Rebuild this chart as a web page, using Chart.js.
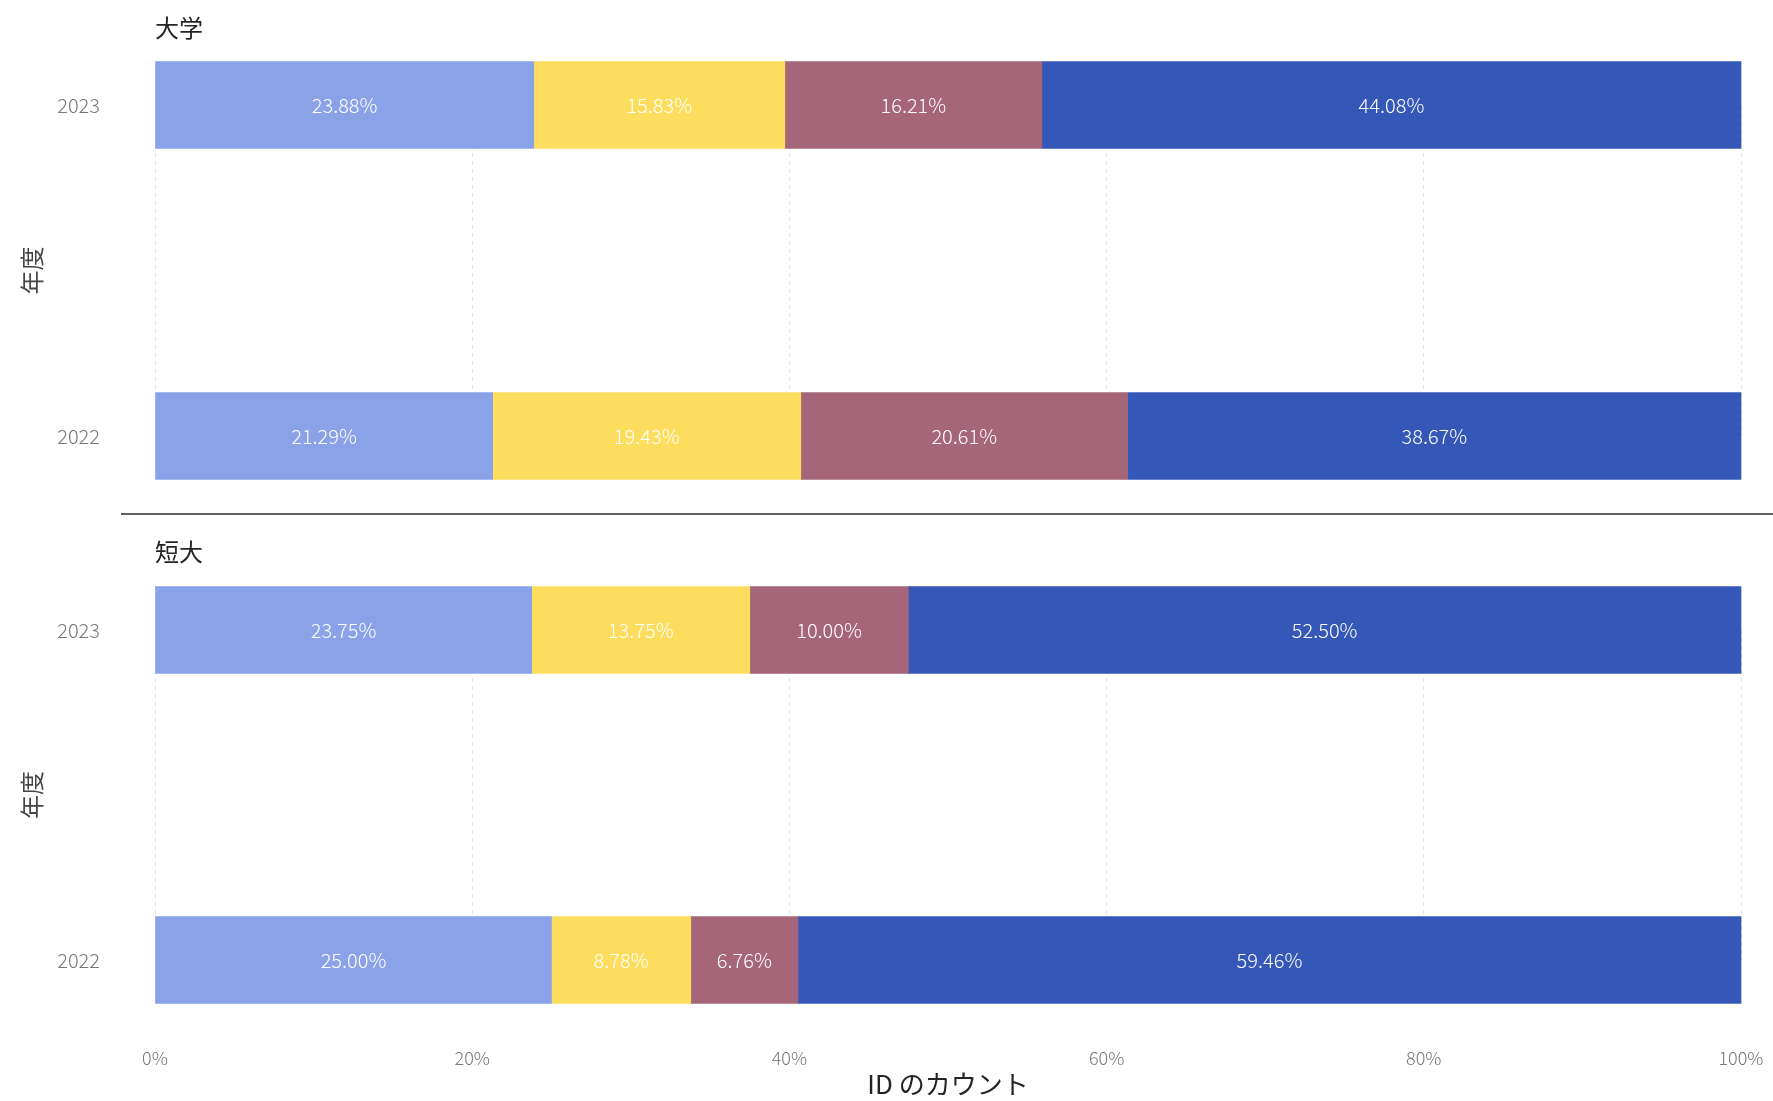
<!DOCTYPE html>
<html>
<head>
<meta charset="utf-8">
<script src="https://cdn.jsdelivr.net/npm/chart.js@4/dist/chart.umd.min.js"></script>
<style>
  body { margin: 0; background: #fff; }
  #wrap { position: relative; width: 1773px; height: 1101px; }
  canvas { position: absolute; left: 0; }
  #top { top: 0; }
  #bottom { top: 514px; }
  #sep { position: absolute; left: 121px; right: 0; top: 513px; height: 2px; background: #606060; }
</style>
</head>
<body>
<div id="wrap">
  <canvas id="top" width="1773" height="514"></canvas>
  <div id="sep"></div>
  <canvas id="bottom" width="1773" height="587"></canvas>
</div>
<script>
// years on the y axis
const years = ['2023', '2022'];
// x axis ticks (percent)
const xTicks = [0, 20, 40, 60, 80, 100];

// 大学 (university) shares per year, in order 2023, 2022
const univSeg1 = [23.88, 21.29];
const univSeg2 = [15.83, 19.43];
const univSeg3 = [16.21, 20.61];
const univSeg4 = [44.08, 38.67];

// 短大 (junior college) shares per year
const juniorSeg1 = [23.75, 25.00];
const juniorSeg2 = [13.75, 8.78];
const juniorSeg3 = [10.00, 6.76];
const juniorSeg4 = [52.50, 59.46];

const segNames = ['区分1', '区分2', '区分3', '区分4'];
const segColors = ['#8aa2e8', '#fcdd5d', '#a5667a', '#3457b8'];

Chart.defaults.font.family = '"Noto Sans CJK JP", "Open Sans", sans-serif';

// draws the value in the middle of every bar segment
const segLabels = {
  id: 'segLabels',
  afterDatasetsDraw(chart) {
    const ctx = chart.ctx;
    ctx.save();
    ctx.font = '300 20px "Noto Sans CJK JP", "Open Sans", sans-serif';
    ctx.fillStyle = '#ffffff';
    ctx.textAlign = 'center';
    ctx.textBaseline = 'middle';
    chart.data.datasets.forEach((ds, i) => {
      chart.getDatasetMeta(i).data.forEach((bar, j) => {
        const p = bar.getCenterPoint();
        ctx.fillText(ds.data[j].toFixed(2) + '%', p.x, p.y);
      });
    });
    ctx.restore();
  }
};

function makeChart(id, title, segs, opts) {
  const datasets = segs.map((vals, i) => ({
    label: segNames[i],
    data: vals,
    backgroundColor: segColors[i],
    borderWidth: 0,
    barThickness: 87,
    clip: false
  }));

  return new Chart(document.getElementById(id), {
    type: 'bar',
    data: { labels: years, datasets: datasets },
    plugins: [segLabels],
    options: {
      indexAxis: 'y',
      responsive: false,
      animation: false,
      layout: { padding: { left: 0, right: 32, top: 0, bottom: opts.padBottom } },
      plugins: {
        legend: { display: false },
        tooltip: { enabled: false },
        title: {
          display: true,
          text: title,
          align: 'start',
          fullSize: false,
          color: '#252423',
          font: { size: 24, weight: 'normal' },
          padding: { top: opts.titleTop, bottom: opts.titleBottom }
        }
      },
      scales: {
        x: {
          stacked: true,
          min: 0,
          max: 100,
          afterBuildTicks: (s) => { s.ticks = xTicks.map(v => ({ value: v })); },
          afterFit: (s) => { s.height = opts.xHeight; },
          border: { display: false, dash: [4, 4] },
          grid: {
            color: 'rgba(0,0,0,0.11)',
            drawTicks: opts.showX,
            tickLength: 87,
            tickColor: 'rgba(0,0,0,0)'
          },
          ticks: {
            display: opts.showX,
            padding: 0,
            color: '#777',
            font: { size: 18, weight: 300 },
            callback: (v) => v + '%'
          },
          title: {
            display: opts.showX,
            text: 'ID のカウント',
            color: '#252423',
            font: { size: 26 },
            padding: { top: 0, bottom: 1 }
          }
        },
        y: {
          stacked: true,
          offset: false,
          afterFit: (s) => { s.width = 155; },
          border: { display: false },
          grid: { display: false, drawTicks: false },
          ticks: { padding: 55, color: '#777', font: { size: 20, weight: 300 } },
          title: {
            display: true,
            text: '年度',
            color: '#444',
            font: { size: 24 },
            padding: { top: 17, bottom: 0 }
          }
        }
      }
    }
  });
}

makeChart('top', '大学', [univSeg1, univSeg2, univSeg3, univSeg4],
  { padBottom: 78, titleTop: 13, titleBottom: 63.2, xHeight: 0, showX: false });

makeChart('bottom', '短大', [juniorSeg1, juniorSeg2, juniorSeg3, juniorSeg4],
  { padBottom: 0, titleTop: 23.6, titleBottom: 63.6, xHeight: 141, showX: true });
</script>
</body>
</html>
